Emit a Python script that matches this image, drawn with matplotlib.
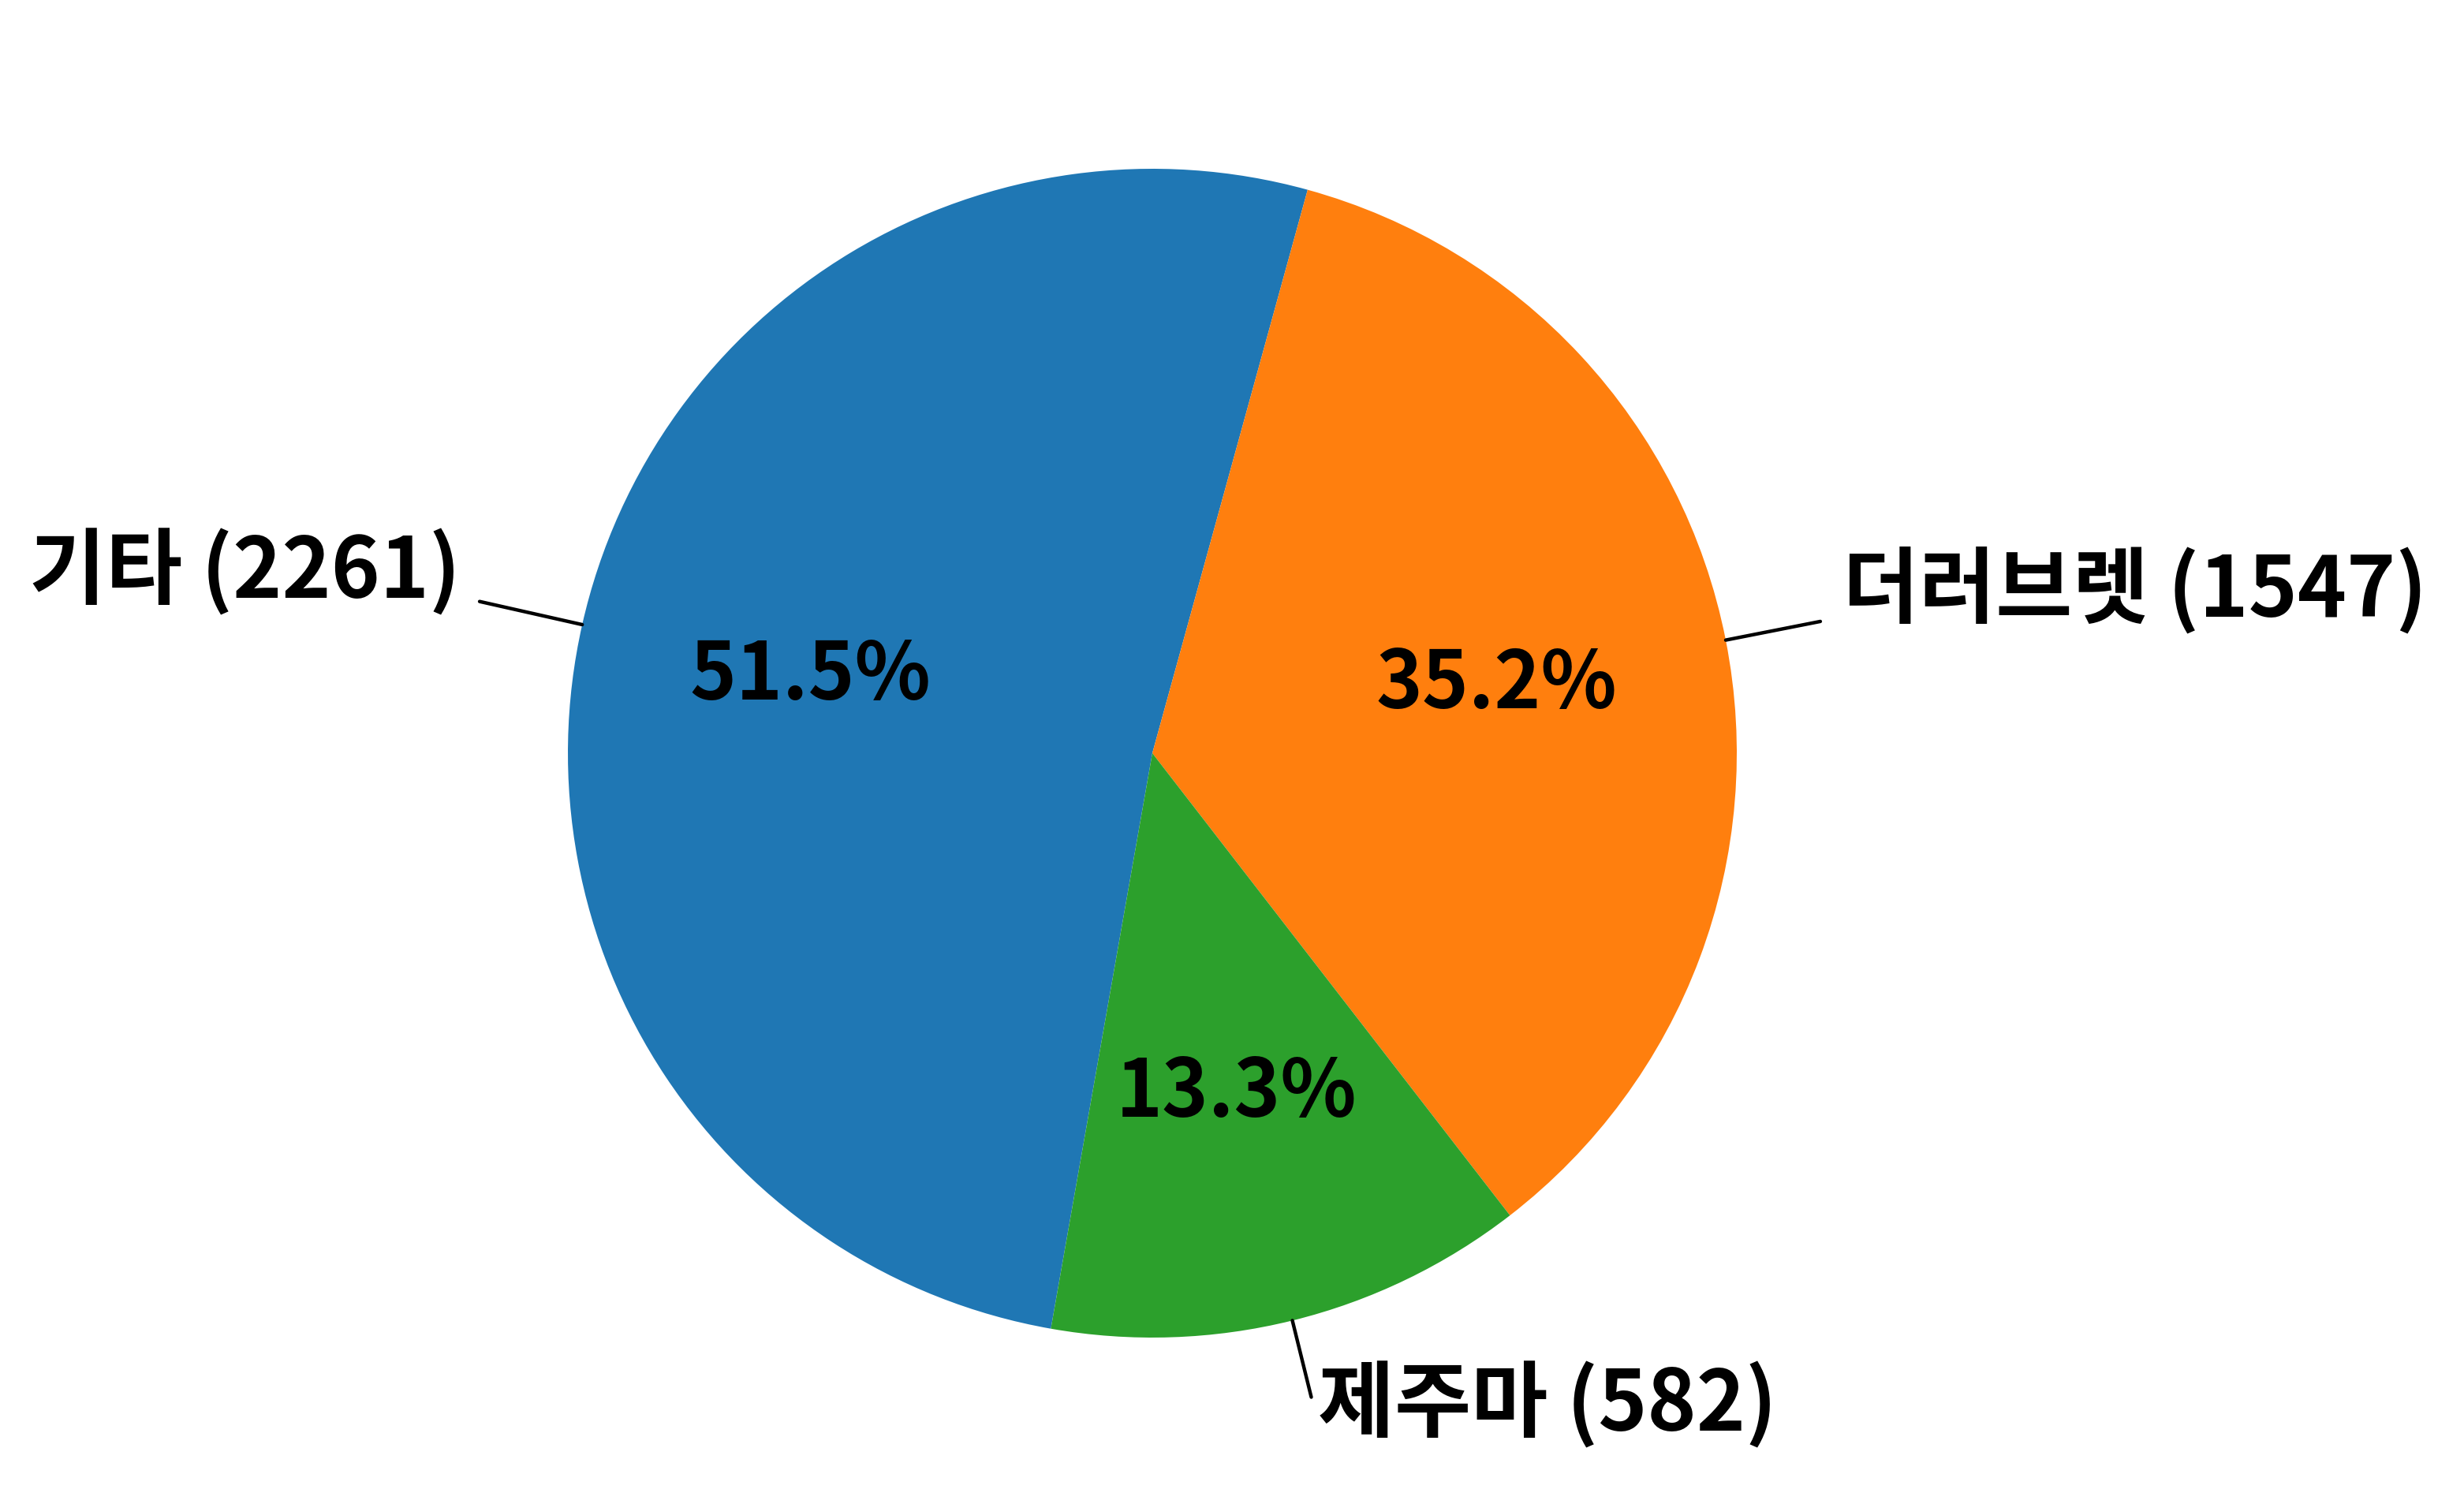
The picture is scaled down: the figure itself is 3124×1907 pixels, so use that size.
import numpy as np
import matplotlib
matplotlib.use('Agg')
import matplotlib.pyplot as plt

plt.rcParams['font.family'] = ['Noto Sans CJK KR', 'DejaVu Sans']

labels = ['기타', '더러브렛', '제주마']
counts = [2261, 1547, 582]
colors = ['#1f77b4', '#ff7f0e', '#2ca02c']

# where each outside label sits (data units, radius = 1) and how it is aligned
label_pos = [(-1.1835, 0.2645, 'right'), (1.1808, 0.2335, 'left'), (0.2834, -1.1606, 'left')]
line_len = [1.18, 1.165, 1.135]

fig = plt.figure(figsize=(15.62, 9.535), dpi=200)
ax = fig.add_axes([0, 0, 1, 1])

wedges, texts, autotexts = ax.pie(
    counts, colors=colors, startangle=260, counterclock=False,
    autopct='%1.1f%%', pctdistance=0.6,
    textprops={'fontsize': 36, 'fontweight': 'bold', 'color': 'black'})

for w, name, n, (tx, ty, ha), r2 in zip(wedges, labels, counts, label_pos, line_len):
    ang = np.deg2rad((w.theta1 + w.theta2) / 2)
    ax.plot([np.cos(ang), r2 * np.cos(ang)], [np.sin(ang), r2 * np.sin(ang)],
            color='black', lw=1.6, solid_capstyle='round')
    ax.text(tx, ty, f'{name} ({n})', ha=ha, va='baseline',
            fontsize=38, fontweight='bold')

ax.set_xlim(-1.9717, 2.2443)
ax.set_ylim(-1.2848, 1.2888)
ax.set_aspect('equal')
ax.axis('off')

fig.savefig('out.png', dpi=200)
